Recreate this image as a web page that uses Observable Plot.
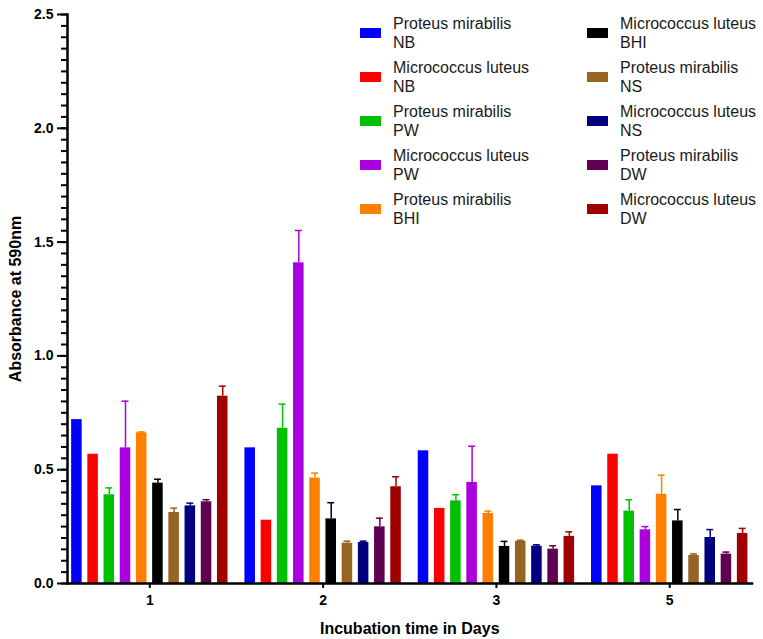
<!DOCTYPE html>
<html>
<head>
<meta charset="utf-8">
<script src="https://cdn.jsdelivr.net/npm/d3@7"></script>
<script src="https://cdn.jsdelivr.net/npm/@observablehq/plot@0.6"></script>
<style>
  body { margin: 0; background: #fff; }
  #chart { position: relative; width: 763px; height: 639px; font-family: "Liberation Sans", Arial, sans-serif; }
  .legend { position: absolute; left: 360px; top: 15px; display: grid; grid-template-columns: 227px 170px; grid-auto-flow: column; grid-template-rows: repeat(5, 44px); }
  .item { display: flex; align-items: flex-start; }
  .sw { width: 21px; height: 10px; margin-top: 12.5px; margin-right: 12px; flex: none; }
  .lbl { font-size: 16px; line-height: 18.5px; color: #1a1a1a; }
</style>
</head>
<body>
<div id="chart"></div>
<script>
// Incubation days (facets along the x axis)
const days = [1, 2, 3, 5];

// Organism / medium combinations, in bar order within each day
const organisms = [
  "Proteus mirabilis", "Micrococcus luteus",
  "Proteus mirabilis", "Micrococcus luteus",
  "Proteus mirabilis", "Micrococcus luteus",
  "Proteus mirabilis", "Micrococcus luteus",
  "Proteus mirabilis", "Micrococcus luteus"
];
const media = ["NB", "NB", "PW", "PW", "BHI", "BHI", "NS", "NS", "DW", "DW"];
const colors = [
  "#0000ff", "#ff0000", "#00c000", "#aa00e0", "#ff8000",
  "#000000", "#966423", "#000080", "#600050", "#a00000"
];

// Mean absorbance at 590 nm and standard deviation, per day
const day1Mean = [0.72, 0.568, 0.39, 0.596, 0.662, 0.441, 0.312, 0.341, 0.359, 0.823];
const day1Sd   = [0, 0, 0.03, 0.205, 0.004, 0.017, 0.019, 0.012, 0.009, 0.044];
const day2Mean = [0.596, 0.278, 0.682, 1.409, 0.463, 0.284, 0.177, 0.18, 0.249, 0.425];
const day2Sd   = [0, 0, 0.106, 0.142, 0.022, 0.071, 0.009, 0.006, 0.038, 0.044];
const day3Mean = [0.583, 0.33, 0.363, 0.444, 0.308, 0.163, 0.185, 0.164, 0.151, 0.207];
const day3Sd   = [0, 0, 0.027, 0.159, 0.01, 0.022, 0.005, 0.006, 0.015, 0.02];
const day5Mean = [0.429, 0.568, 0.318, 0.236, 0.392, 0.275, 0.123, 0.202, 0.129, 0.22];
const day5Sd   = [0, 0, 0.05, 0.014, 0.084, 0.05, 0.007, 0.035, 0.009, 0.022];

const means = [day1Mean, day2Mean, day3Mean, day5Mean];
const sds = [day1Sd, day2Sd, day3Sd, day5Sd];
const keys = organisms.map((o, i) => o + " " + media[i]);

const rows = days.flatMap((d, j) =>
  keys.map((k, i) => ({day: d, key: k, mean: means[j][i], sd: sds[j][i]}))
);
const errs = rows.filter((r) => r.sd > 0);

const plot = Plot.plot({
  width: 763,
  height: 639,
  marginTop: 14,
  marginBottom: 56,
  marginLeft: 67,
  marginRight: 8,
  style: {fontFamily: "'Liberation Sans', Arial, sans-serif", fontSize: "14px", fontWeight: "bold", color: "#000", background: "#fff"},
  fx: {domain: days, paddingInner: 0.05, paddingOuter: 0.01, align: 0, round: false},
  x: {domain: keys, paddingInner: 0.35, paddingOuter: 0.255, round: false, axis: null},
  y: {domain: [0, 2.5]},
  color: {domain: keys, range: colors},
  marks: [
    Plot.barY(rows, {fx: "day", x: "key", y: "mean", fill: "key"}),
    Plot.ruleX(errs, {fx: "day", x: "key", y1: "mean", y2: (d) => d.mean + d.sd, stroke: "key", strokeWidth: 1.5}),
    Plot.tickY(errs, {fx: "day", x: "key", y: (d) => d.mean + d.sd, stroke: "key", strokeWidth: 1.5, insetLeft: 1.8, insetRight: 1.8}),
    Plot.frame({anchor: "bottom", facet: "super", strokeWidth: 2.5}),
    Plot.frame({anchor: "left", facet: "super", strokeWidth: 2.5}),
    // minor ticks every 0.05
    Plot.axisY({ticks: d3.range(0, 2.5001, 0.05), tickSize: 6, tickFormat: () => "", strokeWidth: 2, label: null}),
    // major ticks with labels
    Plot.axisY({ticks: [0, 0.5, 1, 1.5, 2, 2.5], tickSize: 10, tickPadding: 4, tickFormat: ".1f", strokeWidth: 2, fontSize: 14, label: null}),
    // axis title
    Plot.axisY({ticks: [], tickSize: 0, label: "Absorbance at 590nm", labelAnchor: "center", labelOffset: 58, labelArrow: "none", fontSize: 16}),
    Plot.axisFx({anchor: "bottom", tickSize: 5, tickPadding: 7, strokeWidth: 2, fontSize: 14, label: null}),
    Plot.axisFx({anchor: "bottom", ticks: [], tickSize: 0, label: "Incubation time in Days", labelAnchor: "center", labelOffset: 50, fontSize: 16})
  ]
});

const chart = document.getElementById("chart");
chart.appendChild(plot);

// Two-column legend inside the plot area
const legend = document.createElement("div");
legend.className = "legend";
keys.forEach((k, i) => {
  const item = document.createElement("div");
  item.className = "item";
  const sw = document.createElement("div");
  sw.className = "sw";
  sw.style.background = colors[i];
  const lbl = document.createElement("div");
  lbl.className = "lbl";
  lbl.innerHTML = organisms[i] + "<br>" + media[i];
  item.appendChild(sw);
  item.appendChild(lbl);
  legend.appendChild(item);
});
chart.appendChild(legend);
</script>
</body>
</html>
